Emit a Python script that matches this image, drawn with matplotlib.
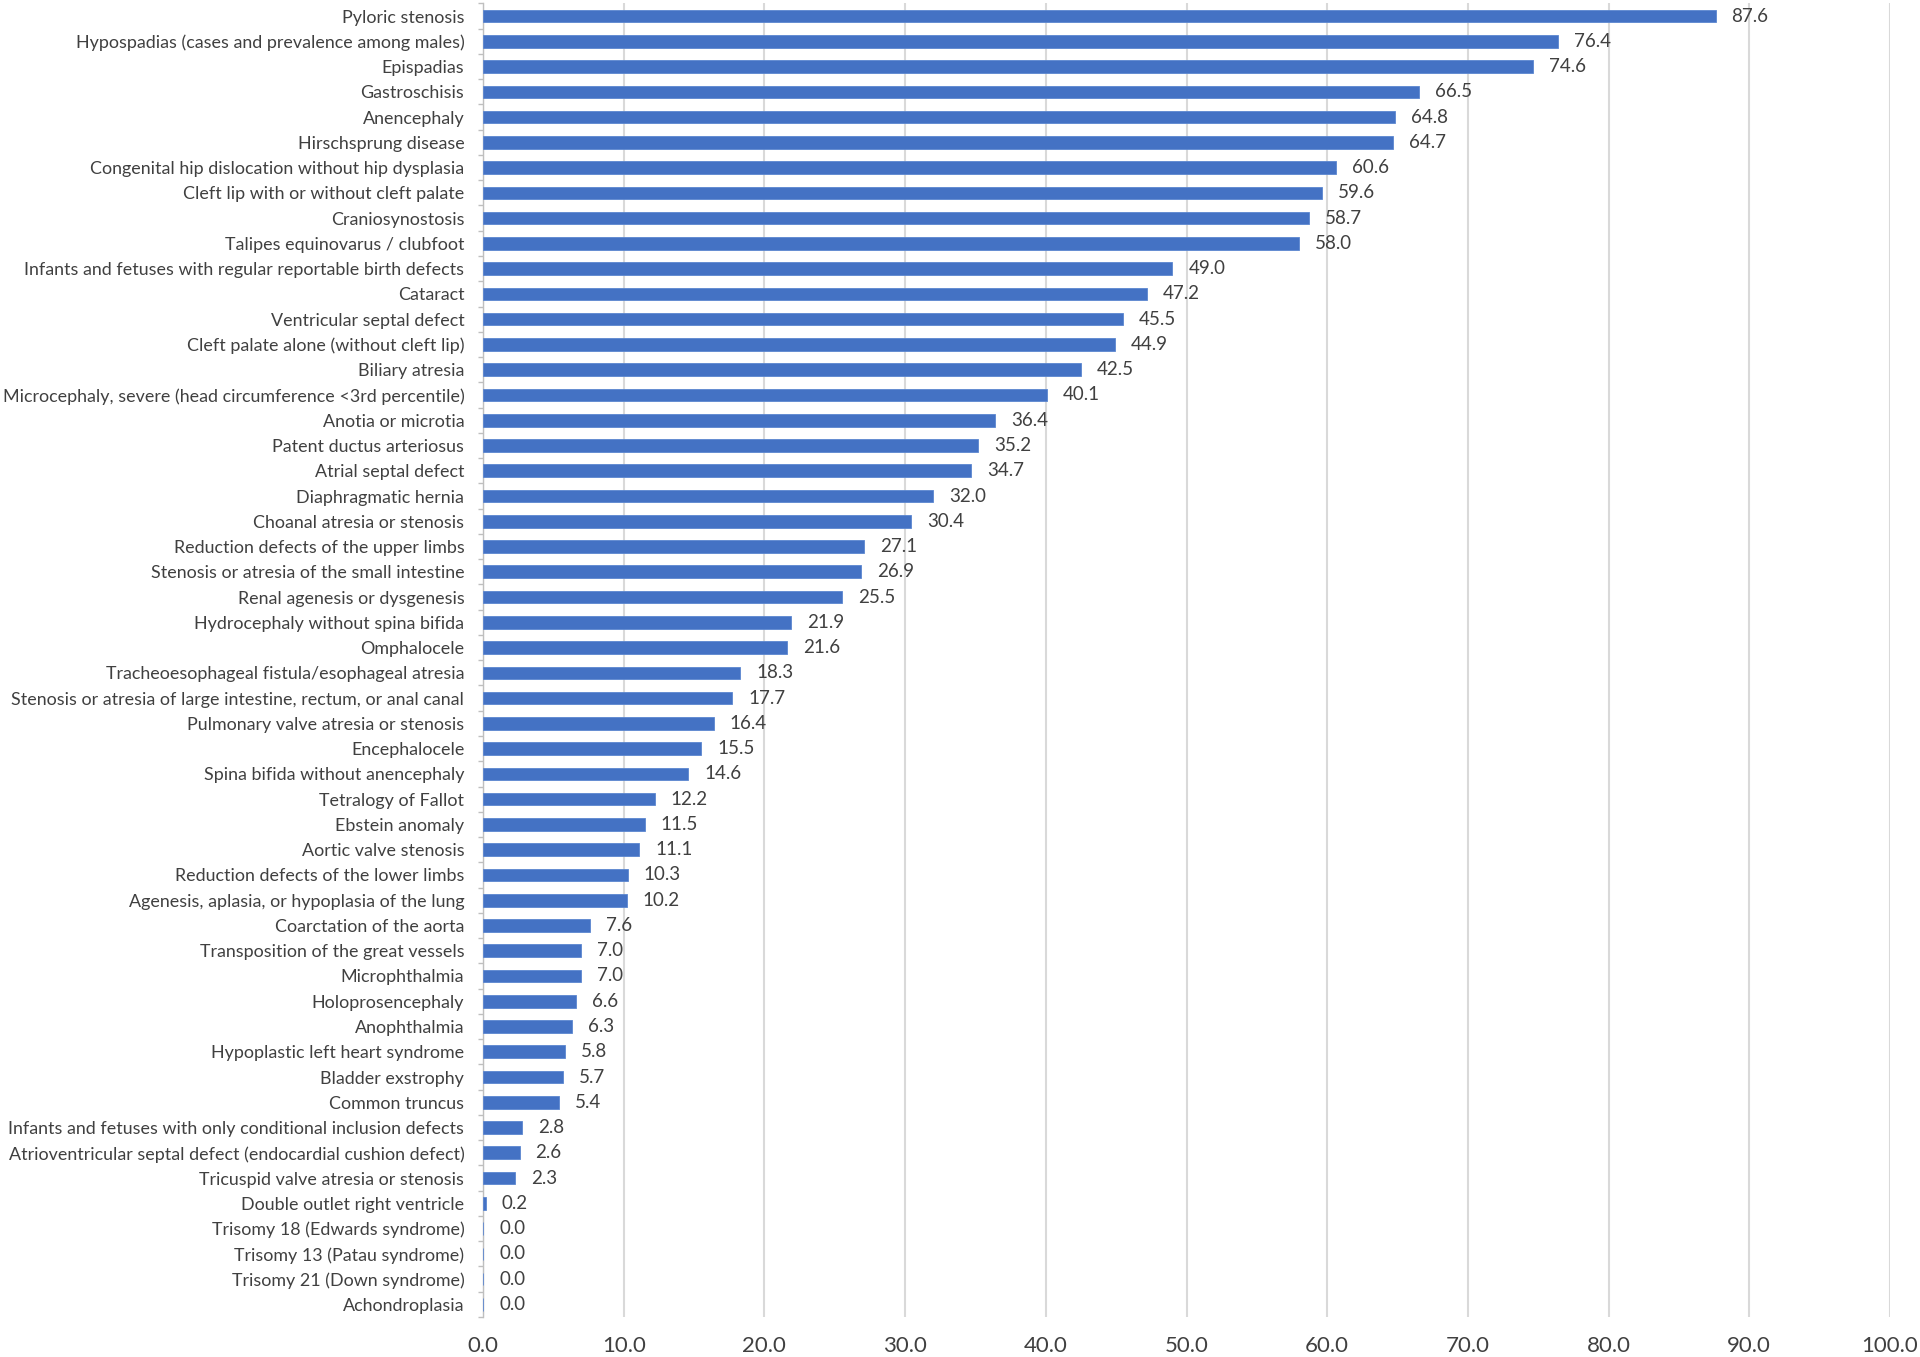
import matplotlib
matplotlib.use("Agg")
import matplotlib.pyplot as plt
import numpy as np

categories = [
    "Pyloric stenosis",
    "Hypospadias (cases and prevalence among males)",
    "Epispadias",
    "Gastroschisis",
    "Anencephaly",
    "Hirschsprung disease",
    "Congenital hip dislocation without hip dysplasia",
    "Cleft lip with or without cleft palate",
    "Craniosynostosis",
    "Talipes equinovarus / clubfoot",
    "Infants and fetuses with regular reportable birth defects",
    "Cataract",
    "Ventricular septal defect",
    "Cleft palate alone (without cleft lip)",
    "Biliary atresia",
    "Microcephaly, severe (head circumference <3rd percentile)",
    "Anotia or microtia",
    "Patent ductus arteriosus",
    "Atrial septal defect",
    "Diaphragmatic hernia",
    "Choanal atresia or stenosis",
    "Reduction defects of the upper limbs",
    "Stenosis or atresia of the small intestine",
    "Renal agenesis or dysgenesis",
    "Hydrocephaly without spina bifida",
    "Omphalocele",
    "Tracheoesophageal fistula/esophageal atresia",
    "Stenosis or atresia of large intestine, rectum, or anal canal",
    "Pulmonary valve atresia or stenosis",
    "Encephalocele",
    "Spina bifida without anencephaly",
    "Tetralogy of Fallot",
    "Ebstein anomaly",
    "Aortic valve stenosis",
    "Reduction defects of the lower limbs",
    "Agenesis, aplasia, or hypoplasia of the lung",
    "Coarctation of the aorta",
    "Transposition of the great vessels",
    "Microphthalmia",
    "Holoprosencephaly",
    "Anophthalmia",
    "Hypoplastic left heart syndrome",
    "Bladder exstrophy",
    "Common truncus",
    "Infants and fetuses with only conditional inclusion defects",
    "Atrioventricular septal defect (endocardial cushion defect)",
    "Tricuspid valve atresia or stenosis",
    "Double outlet right ventricle",
    "Trisomy 18 (Edwards syndrome)",
    "Trisomy 13 (Patau syndrome)",
    "Trisomy 21 (Down syndrome)",
    "Achondroplasia",
]

values = [
    87.6, 76.4, 74.6, 66.5, 64.8, 64.7, 60.6, 59.6, 58.7, 58.0,
    49.0, 47.2, 45.5, 44.9, 42.5, 40.1, 36.4, 35.2, 34.7, 32.0,
    30.4, 27.1, 26.9, 25.5, 21.9, 21.6, 18.3, 17.7, 16.4, 15.5,
    14.6, 12.2, 11.5, 11.1, 10.3, 10.2, 7.6, 7.0, 7.0, 6.6,
    6.3, 5.8, 5.7, 5.4, 2.8, 2.6, 2.3, 0.2, 0.0, 0.0,
    0.0, 0.0,
]

x_ticks = [0, 10, 20, 30, 40, 50, 60, 70, 80, 90, 100]

plt.rcParams['font.family'] = ['Lato', 'DejaVu Sans']
text_color = '#404040'
bar_color = '#4472C4'
grid_color = '#D9D9D9'

fig = plt.figure(figsize=(19.2, 13.57), dpi=100)
ax = fig.add_axes([483/1920, 1 - 1317/1357, (1890-483)/1920, (1317-3.4)/1357])

y = np.arange(len(categories))
ax.barh(y, values, height=0.5, color=bar_color, edgecolor='#5B86D0', linewidth=0.6, zorder=3)

for yi, v in zip(y, values):
    ax.annotate(f"{v:.1f}", xy=(v, yi), xytext=(16, 0), textcoords='offset pixels',
                ha='left', va='center', fontsize=13.5, color=text_color, zorder=4)

ax.set_ylim(len(categories) - 0.5, -0.5)
ax.set_xlim(0, 100)
ax.set_yticks(y)
ax.set_yticklabels(categories, fontsize=12.9, color=text_color)
ax.set_yticks(np.arange(-0.5, len(categories), 1.0), minor=True)
ax.tick_params(axis='y', which='major', length=0, pad=13.5)
ax.tick_params(axis='y', which='minor', length=3.5, width=1, color='#BFBFBF', direction='out')

ax.set_xticks(x_ticks)
ax.set_xticklabels([f"{t:.1f}" for t in x_ticks], fontsize=16, color=text_color)
ax.tick_params(axis='x', length=0, pad=14)

ax.grid(axis='x', color=grid_color, linewidth=1.5, zorder=0)
ax.grid(axis='y', visible=False)
for s in ['top', 'right', 'bottom']:
    ax.spines[s].set_visible(False)
ax.spines['left'].set_color('#BFBFBF')
ax.spines['left'].set_linewidth(1.0)
ax.set_axisbelow(True)

fig.savefig('out.png', dpi=100, facecolor='white')
